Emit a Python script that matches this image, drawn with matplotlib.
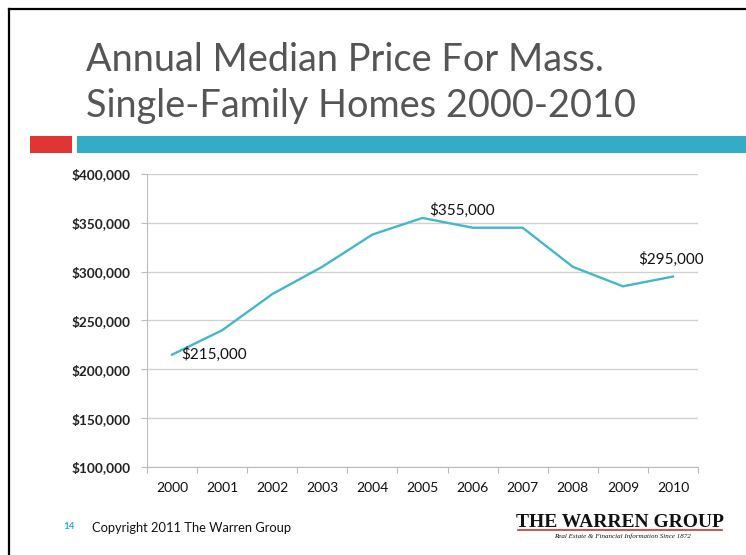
import matplotlib
matplotlib.use("Agg")
import matplotlib.pyplot as plt
from matplotlib.lines import Line2D
from matplotlib.patches import Rectangle
from matplotlib.ticker import FuncFormatter, FixedLocator

years = ["2000", "2001", "2002", "2003", "2004", "2005", "2006", "2007", "2008", "2009", "2010"]
prices = [215000, 240000, 277000, 305000, 338000, 355000, 345000, 345000, 305000, 285000, 295000]
labeled = {0: "$215,000", 5: "$355,000", 10: "$295,000"}
title_lines = ["Annual Median Price For Mass.", "Single-Family Homes 2000-2010"]

W, H = 746, 555
fig = plt.figure(figsize=(W / 100, H / 100), dpi=100)
fig.patch.set_facecolor("white")

def fx(px):
    return px / W

def fy(py):
    return 1 - py / H

# slide frame (left and top)
fig.add_artist(Line2D([fx(9), fx(9)], [0, fy(9)], color="black", lw=1.6))
fig.add_artist(Line2D([fx(9), 1], [fy(9), fy(9)], color="black", lw=1.6))

# title
fig.text(fx(86), fy(71), title_lines[0], fontsize=27.3, color="#555555",
         family="Lato", va="baseline", ha="left")
fig.text(fx(86), fy(117), title_lines[1], fontsize=27.3, color="#555555",
         family="Lato", va="baseline", ha="left")

# decorative bars
fig.add_artist(Rectangle((fx(30), fy(153)), fx(72) - fx(30), fy(136) - fy(153),
                         transform=fig.transFigure, color="#E03535", lw=0))
fig.add_artist(Rectangle((fx(77), fy(153)), 1 - fx(77), fy(136) - fy(153),
                         transform=fig.transFigure, color="#33ACC8", lw=0))

# chart
ax = fig.add_axes([fx(147), fy(467), fx(698) - fx(147), fy(174) - fy(467)])
x = list(range(len(years)))
ax.plot(x, prices, color="#45B6CC", lw=1.7, solid_joinstyle="round")
ax.set_xlim(-0.5, len(years) - 0.5)
ax.set_ylim(100000, 400000)
ax.set_yticks(range(100000, 400001, 50000))
ax.yaxis.set_major_formatter(FuncFormatter(lambda v, p: "${:,.0f}".format(v)))
ax.set_xticks(x)
ax.set_xticklabels(years)
ax.xaxis.set_minor_locator(FixedLocator([i - 0.5 for i in range(len(years) + 1)]))
ax.tick_params(axis="x", which="major", length=0, pad=11, labelsize=10, labelcolor="#111111")
ax.tick_params(axis="x", which="minor", length=4, width=0.8, color="#BBBBBB", direction="out")
ax.tick_params(axis="y", length=4, width=0.8, color="#BBBBBB", pad=8, labelsize=9.8,
               labelcolor="#222222")
for lbl in ax.get_yticklabels():
    lbl.set_fontweight("bold")
    lbl.set_family("Lato")
for lbl in ax.get_xticklabels():
    lbl.set_family("Lato")
ax.grid(axis="y", color="#D0D0D0", lw=1.0)
ax.set_axisbelow(True)
for s in ["top", "right"]:
    ax.spines[s].set_visible(False)
ax.spines["left"].set_color("#BBBBBB")
ax.spines["bottom"].set_color("#BBBBBB")

offsets = {0: (0.18, 0, "left", "center"), 5: (0.13, 3000, "left", "baseline"),
           10: (-0.7, 13000, "left", "baseline")}
for i, txt in labeled.items():
    dx, dy, ha, va = offsets[i]
    ax.text(x[i] + dx, prices[i] + dy, txt, fontsize=11, color="#111111",
            family="Lato", ha=ha, va=va)

# footer
fig.text(fx(63), fy(529), "14", fontsize=7, color="#2FA8E0", family="Lato",
         fontweight="bold", va="baseline")
fig.text(fx(92), fy(532), "Copyright 2011 The Warren Group", fontsize=9.3,
         color="#111111", family="Lato", va="baseline")

fig.text(fx(620), fy(527), "THE WARREN GROUP", fontsize=14, color="#111111",
         family="Liberation Serif", fontweight="bold", va="baseline", ha="center")
fig.add_artist(Line2D([fx(518), fx(722)], [fy(530), fy(530)], color="#D03030", lw=1.2))
fig.text(fx(622), fy(538), "Real Estate & Financial Information Since 1872", fontsize=5,
         style="italic", color="#111111", family="Liberation Serif", va="baseline",
         ha="center")

fig.savefig("out.png", dpi=100, facecolor="white")
